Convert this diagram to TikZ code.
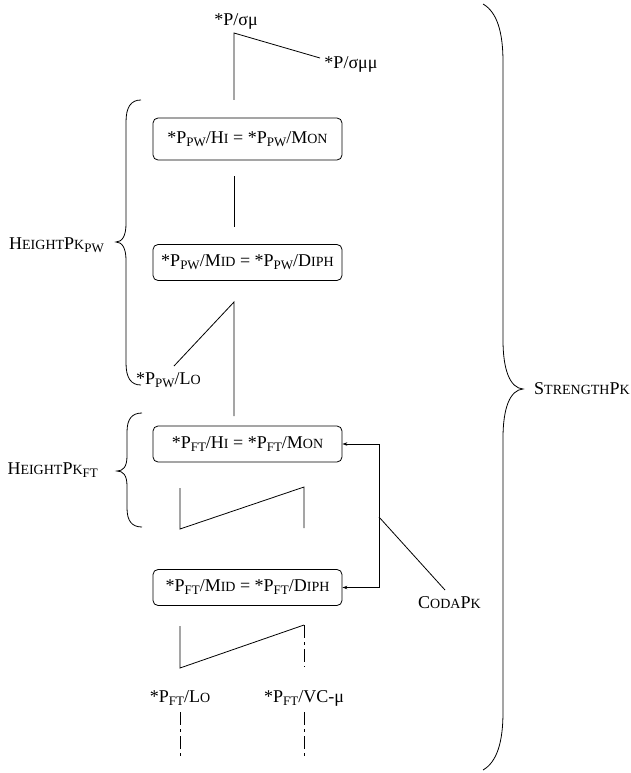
\documentclass[tikz,border=0pt]{standalone}
\usepackage{fontspec}
\setmainfont{Liberation Serif}
\usetikzlibrary{arrows.meta}
\newcommand\smc[1]{{\fontsize{14}{14}\selectfont #1}}
\newcommand\sbs[1]{\raisebox{-3pt}{\fontsize{13}{13}\selectfont #1}}
\begin{document}
\begin{tikzpicture}[x=1pt,y=-1pt,
  every node/.style={font=\fontsize{18}{20}\selectfont, inner sep=0pt},
  boxnode/.style={draw, rounded corners=5pt, line width=0.8pt, minimum width=189pt, minimum height=36pt},
  ln/.style={line width=0.8pt},
  dd/.style={line width=0.8pt, dash pattern=on 13pt off 4pt on 3pt off 4pt},
  arr/.style={line width=0.8pt, -{Stealth[length=5pt,width=3.5pt]}}]
\useasboundingbox (0,0) rectangle (631,773);
% top
\node (top) at (236,21) {*P/σμ};
\node (topr) at (351,64) {*P/σμμ};
\coordinate (t0) at (234,33);
\coordinate (t1) at (234,100);
\coordinate (t2) at (320,58);
\draw[ln] (t1) -- (t0) -- (t2);
% boxes
\node[boxnode, minimum height=42pt] (b1) at (247.5,139) {*P\sbs{PW}/H\smc{I} = *P\sbs{PW}/M\smc{ON}};
\node[boxnode] (b2) at (247.5,262.5) {*P\sbs{PW}/M\smc{ID} = *P\sbs{PW}/D\smc{IPH}};
\node[boxnode] (b3) at (247.5,444) {*P\sbs{FT}/H\smc{I} = *P\sbs{FT}/M\smc{ON}};
\node[boxnode] (b4) at (247.5,587.5) {*P\sbs{FT}/M\smc{ID} = *P\sbs{FT}/D\smc{IPH}};
% between b1 and b2
\coordinate (m0) at (234,176);
\coordinate (m1) at (234,227);
\draw[ln] (m0) -- (m1);
% between b2 and b3
\node[anchor=west] (lo) at (136,380) {*P\sbs{PW}/L\smc{O}};
\coordinate (u0) at (234,302);
\coordinate (u1) at (234,416);
\coordinate (u2) at (174,366);
\draw[ln] (u1) -- (u0) -- (u2);
% zigzag between b3 and b4
\coordinate (z0) at (180,488);
\coordinate (z1) at (180,529);
\coordinate (z2) at (304,487);
\coordinate (z3) at (304,528);
\draw[ln] (z0) -- (z1) -- (z2) -- (z3);
% bottom zigzag
\coordinate (w0) at (180,626);
\coordinate (w1) at (180,668);
\coordinate (w2) at (304,625);
\coordinate (w3) at (304,667);
\draw[ln] (w0) -- (w1) -- (w2);
\draw[dd] (w2) -- (w3);
\node (flo) at (180,698) {*P\sbs{FT}/L\smc{O}};
\node (fvc) at (304,698) {*P\sbs{FT}/VC-μ};
\coordinate (d0) at (180,712);
\coordinate (d1) at (180,756);
\coordinate (d2) at (304,712);
\coordinate (d3) at (304,756);
\draw[dd] (d0) -- (d1);
\draw[dd] (d2) -- (d3);
% arrows and coda
\coordinate (a0) at (379,444);
\coordinate (a1) at (379,587.5);
\coordinate (a2) at (379,517);
\draw[arr] (a0) -- (b3.east);
\draw[arr] (a0) -- (a1) -- (b4.east);
\node[anchor=west] (coda) at (418,603) {C\smc{ODA}P\smc{K}};
\coordinate (c1) at (445,590);
\draw[ln] (a2) -- (c1);
% braces
\node[anchor=east] (hpw) at (104,245) {H\smc{EIGHT}P\smc{K}\sbs{PW}};
\draw[ln] (141,100) .. controls (131,100) and (126,107) .. (126,122) -- (126,224)
  .. controls (126,236) and (122,242) .. (116,242)
  .. controls (122,242) and (126,248) .. (126,260) -- (126,363)
  .. controls (126,378) and (131,385) .. (141,385);
\node[anchor=east] (hft) at (98,470) {H\smc{EIGHT}P\smc{K}\sbs{FT}};
\draw[ln] (142,413) .. controls (132,413) and (127,419) .. (127,432) -- (127,456)
  .. controls (127,467) and (123,471) .. (117,471)
  .. controls (123,471) and (127,475) .. (127,486) -- (127,508)
  .. controls (127,521) and (132,527) .. (142,527);
\node[anchor=west] (str) at (534,389) {S\smc{TRENGTH}P\smc{K}};
\draw[ln] (483,4) .. controls (497,12) and (503,32) .. (503,62) -- (503,340)
  .. controls (503,370) and (510,388) .. (523,389)
  .. controls (510,390) and (503,408) .. (503,438) -- (503,712)
  .. controls (503,742) and (497,762) .. (483,770);
\end{tikzpicture}
\end{document}
